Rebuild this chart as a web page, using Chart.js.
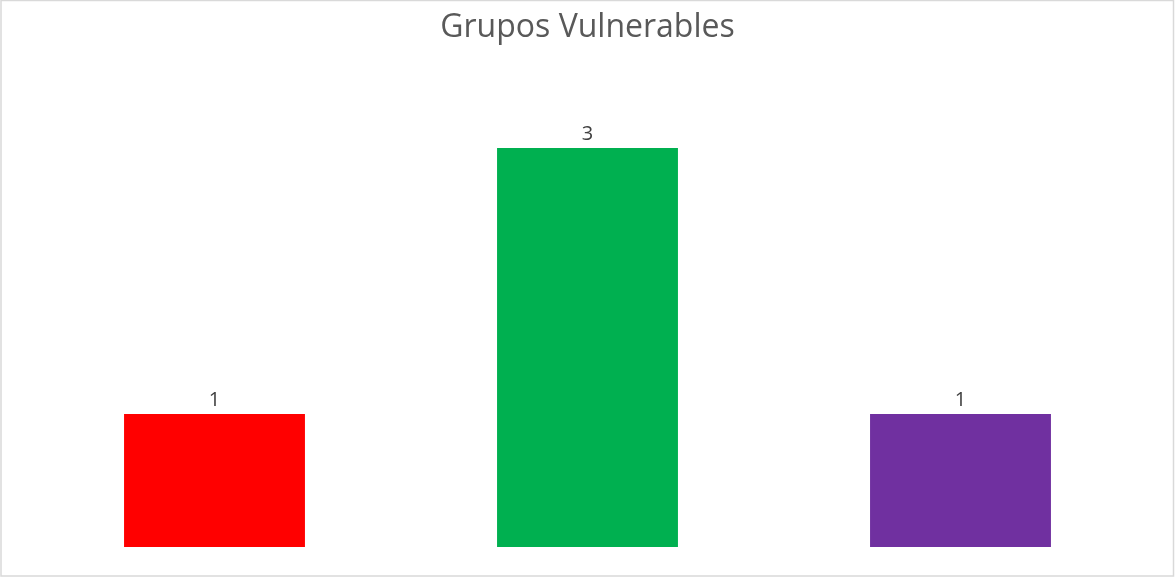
<!DOCTYPE html>
<html>
<head>
<meta charset="utf-8">
<script src="https://cdn.jsdelivr.net/npm/chart.js@4/dist/chart.umd.min.js"></script>
<style>
  html, body { margin: 0; padding: 0; background: #fff; }
  #wrap { width: 1175px; height: 577px; position: relative; }
</style>
</head>
<body>
<div id="wrap"><canvas id="grupoChart"></canvas></div>
<script>
// Data grupos vulnerables
const categorias = ['Grupo 1', 'Grupo 2', 'Grupo 3'];
const valores = [1, 3, 1];
const colores = ['#FF0000', '#00B050', '#7030A0'];

// Bingkai abu-abu tipis di sekeliling chart
const borderPlugin = {
    id: 'bingkai',
    beforeDraw(chart) {
        const ctx = chart.ctx;
        ctx.save();
        ctx.fillStyle = '#ffffff';
        ctx.fillRect(0, 0, chart.width, chart.height);
        ctx.strokeStyle = '#d9d9d9';
        ctx.lineWidth = 1.5;
        ctx.strokeRect(1, 0.5, chart.width - 2.5, chart.height - 1.5);
        ctx.restore();
    }
};

// Label angka di atas batang
const labelPlugin = {
    id: 'labelAtas',
    afterDatasetsDraw(chart) {
        const ctx = chart.ctx;
        const meta = chart.getDatasetMeta(0);
        ctx.save();
        ctx.font = '20px "Open Sans", sans-serif';
        ctx.fillStyle = '#404040';
        ctx.textAlign = 'center';
        ctx.textBaseline = 'bottom';
        meta.data.forEach((bar, i) => {
            ctx.fillText(String(valores[i]), bar.x, bar.y - 4);
        });
        ctx.restore();
    }
};

new Chart(document.getElementById('grupoChart'), {
    type: 'bar',
    data: {
        labels: categorias,
        datasets: [{
            data: valores,
            backgroundColor: colores,
            borderWidth: 0,
            barPercentage: 1,
            categoryPercentage: 0.485
        }]
    },
    options: {
        responsive: true,
        maintainAspectRatio: false,
        animation: false,
        layout: { padding: { top: 0, left: 28, right: 28, bottom: 30 } },
        plugins: {
            legend: { display: false },
            tooltip: { enabled: false },
            title: {
                display: true,
                text: 'Grupos Vulnerables',
                color: '#595959',
                font: { family: '"Open Sans", sans-serif', size: 32, weight: 'normal' },
                padding: { top: 9, bottom: 74 }
            }
        },
        scales: {
            x: { display: false },
            y: { display: false, min: 0, max: 3.2 }
        }
    },
    plugins: [borderPlugin, labelPlugin]
});
</script>
</body>
</html>
